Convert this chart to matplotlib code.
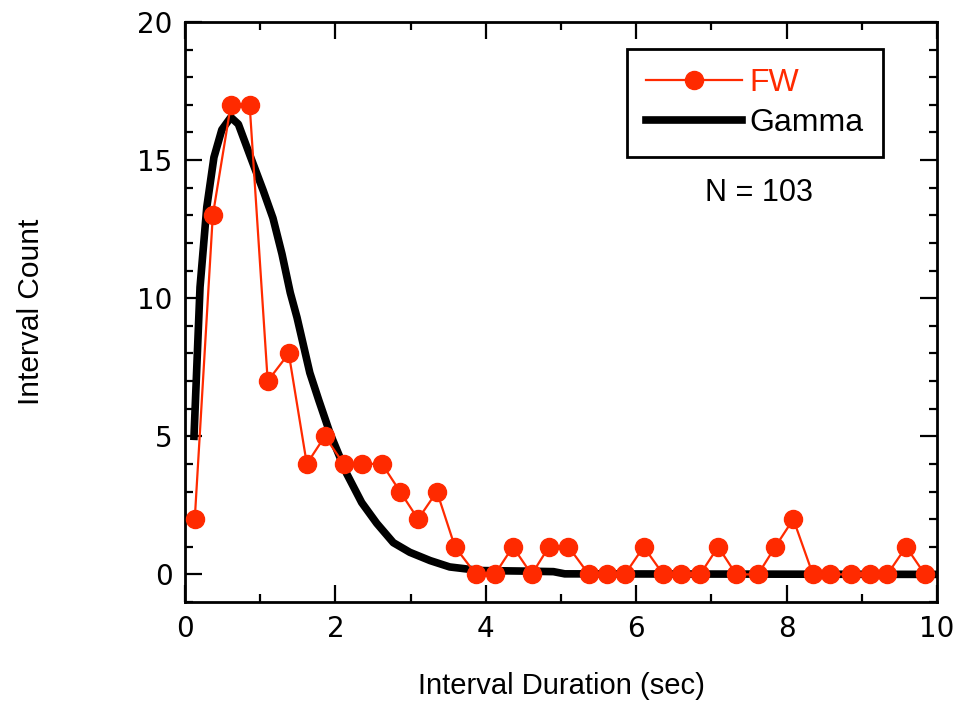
import matplotlib.pyplot as plt
from matplotlib.ticker import MultipleLocator

# Interval histogram (bin centres, counts) and fitted gamma curve
bin_centers = [0.13, 0.37, 0.61, 0.86, 1.10, 1.38, 1.62, 1.86, 2.11, 2.35,
               2.62, 2.86, 3.10, 3.35, 3.59, 3.87, 4.12, 4.36, 4.61, 4.84,
               5.10, 5.37, 5.61, 5.85, 6.10, 6.36, 6.60, 6.85, 7.09, 7.33,
               7.62, 7.85, 8.09, 8.35, 8.58, 8.86, 9.11, 9.34, 9.59, 9.84]
fw_counts = [2, 13, 17, 17, 7, 8, 4, 5, 4, 4,
             4, 3, 2, 3, 1, 0, 0, 1, 0, 1,
             1, 0, 0, 0, 1, 0, 0, 0, 1, 0,
             0, 1, 2, 0, 0, 0, 0, 0, 1, 0]

gamma_x = [0.12, 0.20, 0.29, 0.385, 0.49, 0.61, 0.71, 0.86, 1.04, 1.17,
           1.29, 1.40, 1.49, 1.66, 1.78, 1.93, 2.15, 2.35, 2.55, 2.77,
           2.99, 3.26, 3.52, 3.92, 4.50, 4.90, 5.05, 10.0]
gamma_y = [5.0, 10.4, 13.3, 15.1, 16.1, 16.55, 16.3, 15.2, 13.9, 12.9,
           11.6, 10.2, 9.3, 7.3, 6.3, 5.1, 3.65, 2.6, 1.85, 1.15,
           0.8, 0.5, 0.27, 0.14, 0.12, 0.1, 0.02, 0.0]
n_total = sum(fw_counts)

red = '#ff2a00'
label_font = 'Liberation Sans'

fig = plt.figure(figsize=(9.55, 7.01), dpi=100)
ax = fig.add_axes([0.1937, 0.1412, 0.7874, 0.8274])

ax.plot(bin_centers, fw_counts, '-o', color=red, lw=1.6, ms=13, label='FW', zorder=3)
ax.plot(gamma_x, gamma_y, color='black', lw=5.5, label='Gamma', zorder=2)

ax.set_xlim(0, 10)
ax.set_ylim(-1, 20)
ax.xaxis.set_major_locator(MultipleLocator(2))
ax.xaxis.set_minor_locator(MultipleLocator(1))
ax.yaxis.set_major_locator(MultipleLocator(5))
ax.yaxis.set_minor_locator(MultipleLocator(1))
ax.tick_params(which='both', direction='in', top=True, right=True, width=1.6)
ax.tick_params(which='major', length=12, labelsize=20, pad=9)
ax.tick_params(which='minor', length=6)
for s in ax.spines.values():
    s.set_linewidth(2)

ax.set_xlabel('Interval Duration (sec)', fontsize=21, labelpad=21, family=label_font)
ax.set_ylabel('Interval Count', fontsize=21.5, labelpad=66, family=label_font)

leg = ax.legend(loc='upper right', bbox_to_anchor=(0.928, 0.953), borderaxespad=0,
                prop={'family': label_font, 'size': 23},
                frameon=True, fancybox=False, handlelength=3.0, handletextpad=0.25,
                borderpad=0.6, labelspacing=0.3)
leg.get_frame().set_edgecolor('black')
leg.get_frame().set_linewidth(2)
leg.get_frame().set_alpha(1)
leg.get_texts()[0].set_color(red)

ax.text(7.63, 13.8, f'N = {n_total}', fontsize=22, ha='center', va='center',
        family=label_font)

fig.savefig('out.png', dpi=100)
